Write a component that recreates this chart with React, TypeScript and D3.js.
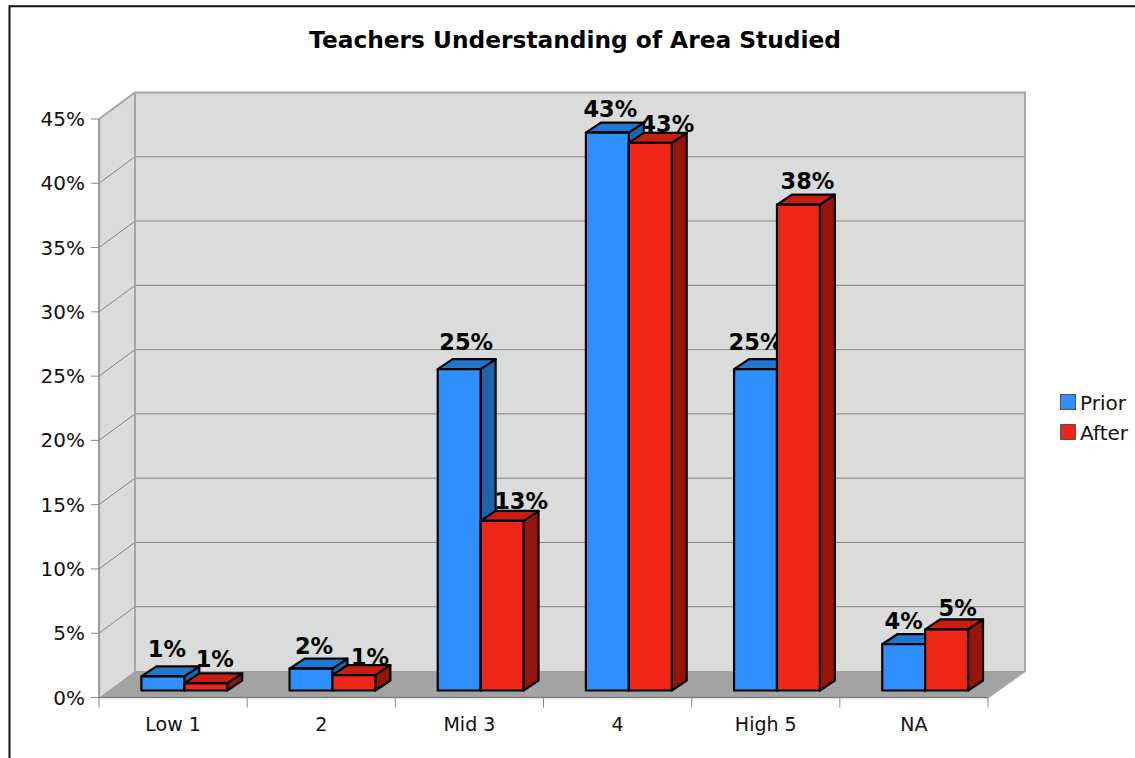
import { scaleBand, scaleLinear, format } from 'd3';

const categories = ['Low 1', '2', 'Mid 3', '4', 'High 5', 'NA'];
const prior = [1.1, 1.7, 25, 43.4, 25, 3.6];
const after = [0.55, 1.2, 13.2, 42.6, 37.8, 4.75];
const yTicks = [0, 5, 10, 15, 20, 25, 30, 35, 40, 45];
const seriesNames = ['Prior', 'After'];

// hand placed label offsets from bar centre / front top, the original chart shoves them around
const priorLabelShift = [[4, -19], [3, -15], [7, -19], [3, -16], [0, -19], [0, -15]];
const afterLabelShift = [[9, -16], [16, -10], [19, -12], [17, -11], [9, -16], [11, -13]];

const FONT = '"DejaVu Sans", sans-serif';
const DEPTH_X = 36;
const DEPTH_Y = -26.5;
const BAR_X = 15;
const BAR_Y = -10;

const colors = {
  Prior: { front: '#2f8fff', top: '#2176d0', side: '#2264ac' },
  After: { front: '#ee2618', top: '#c81e10', side: '#96140a' },
} as Record<string, { front: string; top: string; side: string }>;

const x = scaleBand<string>().domain(categories).range([99, 988]);
const xBar = scaleBand<string>().domain(seriesNames).range([42.4, 128.2]);
const y = scaleLinear().domain([0, 45]).range([697.5, 119]);
const pct = format('.0f');

const Bar = ({ cat, name, value }: { cat: string; name: string; value: number }) => {
  const x0 = (x(cat) as number) + (xBar(name) as number);
  const x1 = x0 + xBar.bandwidth();
  const base = y(0) - 7;
  const top = y(value) - 7;
  const c = colors[name];
  const edge = { stroke: '#000', strokeWidth: 2.2, strokeLinejoin: 'round' as const };
  return (
    <g>
      <polygon
        points={`${x1},${top} ${x1 + BAR_X},${top + BAR_Y} ${x1 + BAR_X},${base + BAR_Y} ${x1},${base}`}
        fill={c.side}
        {...edge}
      />
      <polygon
        points={`${x0},${top} ${x0 + BAR_X},${top + BAR_Y} ${x1 + BAR_X},${top + BAR_Y} ${x1},${top}`}
        fill={c.top}
        {...edge}
      />
      <rect x={x0} y={top} width={x1 - x0} height={base - top} fill={c.front} {...edge} />
    </g>
  );
};

const App = () => {
  const left = 99;
  const right = 988;
  const y0 = y(0);
  const yMax = y(45);

  const barLabel = (cat: string, i: number, name: string, value: number, shift: number[]) => {
    const cx = (x(cat) as number) + (xBar(name) as number) + xBar.bandwidth() / 2;
    return (
      <text
        key={`${name}-${cat}`}
        x={cx + shift[0]}
        y={y(value) - 7 + shift[1]}
        textAnchor="middle"
        fontSize={22.5}
        fontWeight="bold"
        fill="#000"
      >
        {pct(value)}%
      </text>
    );
  };

  return (
    <svg
      width={1135}
      height={758}
      style={{ position: 'absolute', left: 0, top: 0, background: '#fff', fontFamily: FONT }}
    >
      <path d="M9.5,758 V6.3 H1135" fill="none" stroke="#111" strokeWidth={2} />

      <text x={575} y={48} textAnchor="middle" fontSize={23.3} fontWeight="bold" fill="#000">
        Teachers Understanding of Area Studied
      </text>

      {/* walls and floor */}
      <polygon
        points={`${left},${yMax} ${left + DEPTH_X},${yMax + DEPTH_Y} ${left + DEPTH_X},${y0 + DEPTH_Y} ${left},${y0}`}
        fill="#dadbdb"
      />
      <rect
        x={left + DEPTH_X}
        y={yMax + DEPTH_Y}
        width={right - left + 1}
        height={y0 - yMax}
        fill="#dadbdb"
      />
      <polygon
        points={`${left},${y0} ${left + DEPTH_X},${y0 + DEPTH_Y} ${right + DEPTH_X + 1},${y0 + DEPTH_Y} ${right},${y0}`}
        fill="#a3a3a3"
      />

      {yTicks.map((t) => (
        <g key={t}>
          {t > 0 && t < 45 && (
            <path
              d={`M${left},${y(t)} L${left + DEPTH_X},${y(t) + DEPTH_Y} H${right + DEPTH_X + 1}`}
              fill="none"
              stroke="#858585"
              strokeWidth={1}
            />
          )}
          <line x1={left - 8} x2={left} y1={y(t)} y2={y(t)} stroke="#8a8a8a" strokeWidth={1} />
          <text x={85} y={y(t) + 7} textAnchor="end" fontSize={20} fill="#111">
            {t}%
          </text>
        </g>
      ))}

      {/* wall edges */}
      <path
        d={`M${left},${yMax} L${left + DEPTH_X},${yMax + DEPTH_Y} H${right + DEPTH_X + 1} V${y0 + DEPTH_Y} L${right},${y0}`}
        fill="none"
        stroke="#a6a6a6"
        strokeWidth={2}
      />
      <line
        x1={left + DEPTH_X}
        x2={left + DEPTH_X}
        y1={yMax + DEPTH_Y}
        y2={y0 + DEPTH_Y}
        stroke="#a6a6a6"
        strokeWidth={2}
      />
      <line x1={left} x2={left} y1={yMax} y2={y0} stroke="#808080" strokeWidth={1.5} />
      <line x1={left} x2={right} y1={y0} y2={y0} stroke="#808080" strokeWidth={1.5} />

      {/* category axis */}
      {categories.map((c) => (
        <g key={c}>
          <line
            x1={x(c) as number}
            x2={x(c) as number}
            y1={y0}
            y2={y0 + 10}
            stroke="#8a8a8a"
            strokeWidth={1}
          />
          <text
            x={(x(c) as number) + x.bandwidth() / 2}
            y={731}
            textAnchor="middle"
            fontSize={19}
            fill="#111"
          >
            {c}
          </text>
        </g>
      ))}
      <line x1={right} x2={right} y1={y0} y2={y0 + 10} stroke="#8a8a8a" strokeWidth={1} />

      {/* labels sit under the bars of the same group */}
      {categories.map((c, i) => (
        <g key={c}>
          {barLabel(c, i, 'Prior', prior[i], priorLabelShift[i])}
          {barLabel(c, i, 'After', after[i], afterLabelShift[i])}
          <Bar cat={c} name="Prior" value={prior[i]} />
          <Bar cat={c} name="After" value={after[i]} />
        </g>
      ))}

      {/* legend */}
      {seriesNames.map((name, i) => (
        <g key={name}>
          <rect
            x={1060.5}
            y={394.5 + i * 30}
            width={15}
            height={15}
            fill={colors[name].front}
            stroke="#555"
            strokeWidth={1}
          />
          <text x={1080} y={410 + i * 30} fontSize={20} fill="#111">
            {name}
          </text>
        </g>
      ))}
    </svg>
  );
};

export default App;
